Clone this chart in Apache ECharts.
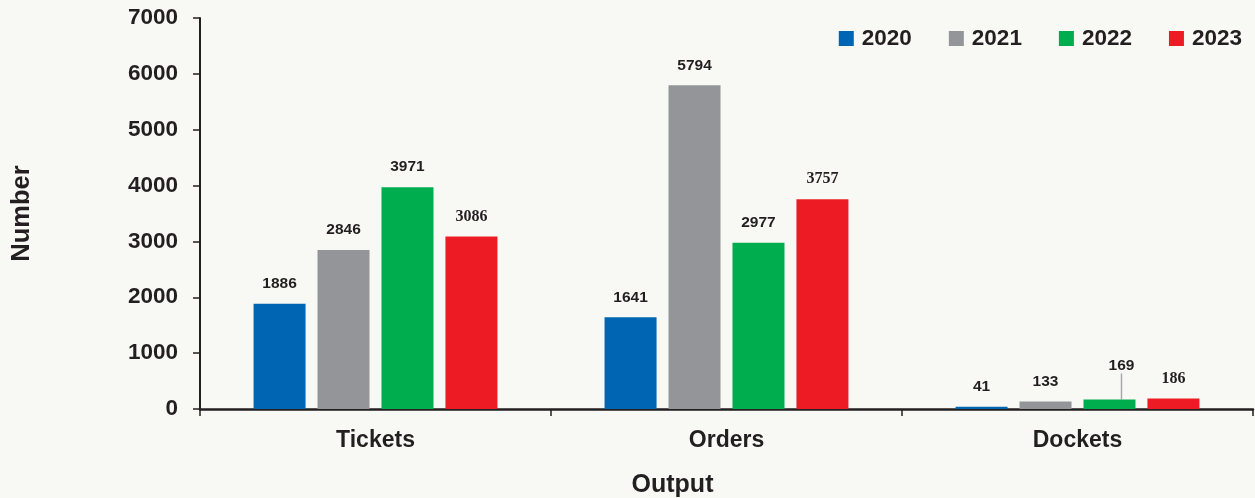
<!DOCTYPE html>
<html>
<head>
<meta charset="utf-8">
<script src="https://cdn.jsdelivr.net/npm/echarts@6/dist/echarts.min.js"></script>
<style>
html,body{margin:0;padding:0;background:#f8f9f5;}
#c{width:1255px;height:498px;}
</style>
</head>
<body>
<div id="c"></div>
<script>
var categories = ['Tickets', 'Orders', 'Dockets'];
var years = ['2020', '2021', '2022', '2023'];
var v2020 = [1886, 1641, 41];
var v2021 = [2846, 5794, 133];
var v2022 = [3971, 2977, 169];
var v2023 = [3086, 3757, 186];
var yTicks = [0, 1000, 2000, 3000, 4000, 5000, 6000, 7000];

var colors = ['#0066b3', '#939598', '#00ad4e', '#ed1c24'];
var values = [v2020, v2021, v2022, v2023];
var sans = '"Liberation Sans", Arial, sans-serif';
var serif = '"Liberation Serif", "Times New Roman", serif';

var series = years.map(function (y, i) {
  var data = values[i].map(function (v, j) {
    var d = { value: v };
    if (i === 2 && j === 2) {
      d.labelLine = { show: true, lineStyle: { color: '#a7a9ac', width: 1.5 } };
    }
    return d;
  });
  var s = {
    name: y,
    type: 'bar',
    data: data,
    barWidth: 52,
    barGap: '23%',
    itemStyle: { color: colors[i] },
    label: {
      show: true,
      position: 'top',
      distance: 12,
      color: '#231f20',
      fontWeight: 'bold',
      fontFamily: i === 3 ? serif : sans,
      fontSize: i === 3 ? 16 : 15.5
    }
  };
  if (i === 2) {
    s.labelLayout = function (p) {
      if (p.dataIndex === 2) return { dx: 12, dy: -14 };
      return {};
    };
  }
  return s;
});

var chart = echarts.init(document.getElementById('c'));
chart.setOption({
  backgroundColor: '#f8f9f5',
  animation: false,
  textStyle: { fontFamily: sans },
  legend: {
    data: years,
    right: 8,
    top: 22,
    itemWidth: 15,
    itemHeight: 15,
    itemGap: 37,
    icon: 'rect',
    textStyle: { fontSize: 22.5, fontWeight: 'bold', color: '#231f20', fontFamily: sans, padding: [0, 0, 0, 3] }
  },
  grid: { left: 200, right: 2, top: 18, bottom: 89, containLabel: false, outerBoundsMode: 'none' },
  xAxis: {
    type: 'category',
    data: categories,
    name: 'Output',
    nameLocation: 'middle',
    nameGap: 64,
    nameTextStyle: { fontSize: 25, fontWeight: 'bold', color: '#231f20', padding: [0, 108, 0, 0] },
    axisLine: { lineStyle: { color: '#231f20', width: 2.5 } },
    axisTick: { show: true, length: 7, lineStyle: { color: '#231f20', width: 1.5 } },
    axisLabel: { fontSize: 23, fontWeight: 'bold', color: '#231f20', margin: 20 }
  },
  yAxis: {
    type: 'value',
    min: 0,
    max: 7000,
    interval: 1000,
    name: 'Number',
    nameLocation: 'middle',
    nameGap: 165,
    nameTextStyle: { fontSize: 25.5, fontWeight: 'bold', color: '#231f20' },
    axisLine: { show: true, lineStyle: { color: '#231f20', width: 2 } },
    axisTick: { show: true, length: 7, lineStyle: { color: '#231f20', width: 1.5 } },
    splitLine: { show: false },
    axisLabel: {
      fontSize: 22.5, fontWeight: 'bold', color: '#231f20', margin: 22,
      formatter: function (v) { return yTicks.indexOf(v) >= 0 ? String(v) : ''; }
    }
  },
  series: series
});
</script>
</body>
</html>
